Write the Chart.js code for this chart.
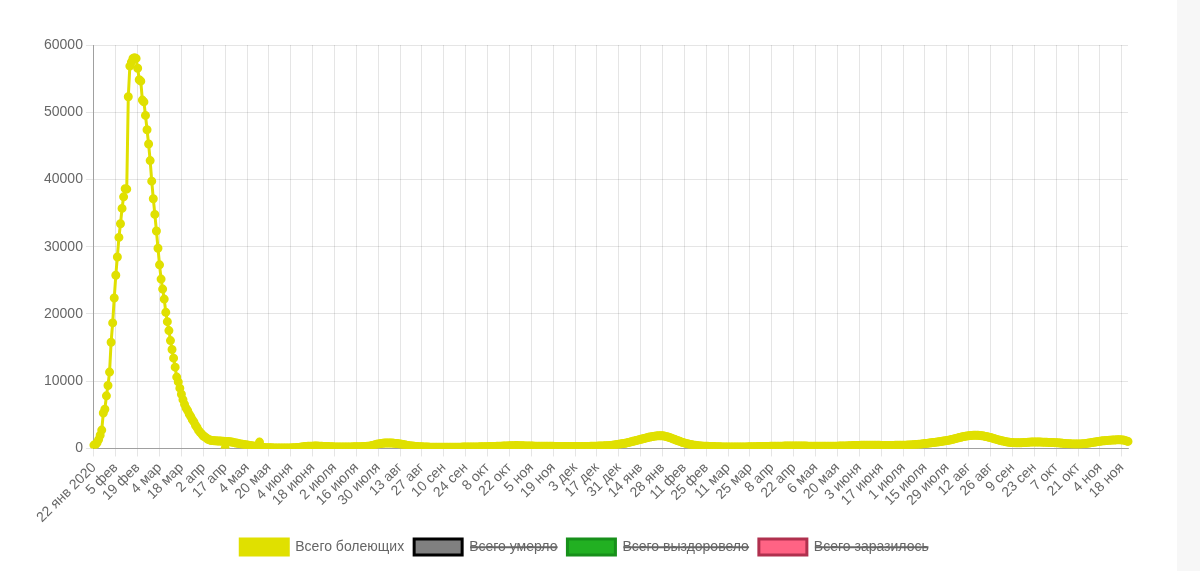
<!DOCTYPE html>
<html lang="ru">
<head>
<meta charset="utf-8">
<title>Всего болеющих</title>
<script src="https://cdn.jsdelivr.net/npm/chart.js@4/dist/chart.umd.min.js"></script>
<style>
  body { margin: 0; background: #f7f7f7; }
  #wrap { width: 1177px; height: 571px; background: #fff; position: relative; }
</style>
</head>
<body>
<div id="wrap"><canvas id="grafico"></canvas></div>
<script>
// подписи оси X (каждые 14 точек)
const tickLabels = [
  "22 янв 2020", "5 фев", "19 фев", "4 мар", "18 мар", "2 апр", "17 апр", "4 мая",
  "20 мая", "4 июня", "18 июня", "2 июля", "16 июля", "30 июля", "13 авг", "27 авг",
  "10 сен", "24 сен", "8 окт", "22 окт", "5 ноя", "19 ноя", "3 дек", "17 дек",
  "31 дек", "14 янв", "28 янв", "11 фев", "25 фев", "11 мар", "25 мар", "8 апр",
  "22 апр", "6 мая", "20 мая", "3 июня", "17 июня", "1 июля", "15 июля", "29 июля",
  "12 авг", "26 авг", "9 сен", "23 сен", "7 окт", "21 окт", "4 ноя", "18 ноя"
];
const tickStep = 14;

// всего болеющих, по дням (одна строка = 14 дней)
const activeCases = [
  503, 595, 858, 1325, 1970, 2737, 5277, 5834, 7835, 9375, 11357, 15806, 18677, 22373,
  25763, 28478, 31394, 33414, 35706, 37425, 38639, 38563, 52313, 56864, 57456, 57999, 58115, 58009,
  56551, 54837, 54619, 51806, 51535, 49530, 47400, 45280, 42810, 39750, 37140, 34810, 32350, 29780,
  27310, 25190, 23700, 22220, 20250, 18860, 17530, 16050, 14720, 13430, 12100, 10620, 9900, 8970,
  8060, 7260, 6570, 6010, 5640, 5120, 4740, 4290, 3950, 3460, 3130, 2690, 2400, 2160,
  1860, 1730, 1560, 1380, 1300, 1190, 1190, 1160, 1140, 1120, 1120, 1100, 1080, 1060,
  0, 1050, 1030, 1000, 960, 920, 870, 820, 770, 720, 680, 640, 600, 560,
  520, 480, 440, 400, 360, 320, 280, 240, 950, 200, 170, 150, 130, 120,
  110, 100, 95, 90, 85, 80, 80, 75, 75, 70, 70, 70, 75, 80,
  90, 100, 110, 120, 140, 160, 190, 220, 250, 280, 300, 320, 330, 340,
  350, 360, 360, 360, 350, 340, 330, 310, 300, 290, 280, 270, 260, 250,
  240, 240, 230, 230, 220, 220, 220, 220, 230, 230, 240, 240, 250, 250,
  260, 260, 270, 270, 280, 290, 300, 320, 350, 390, 440, 500, 560, 620,
  670, 710, 750, 780, 800, 810, 820, 820, 810, 800, 780, 760, 730, 700,
  660, 620, 580, 540, 500, 460, 420, 390, 360, 330, 310, 290, 270, 260,
  250, 240, 230, 220, 210, 200, 200, 190, 190, 180, 180, 180, 180, 180,
  180, 180, 180, 180, 180, 190, 190, 190, 200, 200, 200, 200, 210, 210,
  210, 220, 220, 220, 230, 230, 240, 240, 240, 250, 250, 260, 260, 270,
  270, 280, 280, 290, 300, 310, 320, 330, 340, 350, 360, 370, 380, 390,
  400, 410, 420, 420, 430, 430, 420, 420, 410, 400, 390, 380, 370, 360,
  360, 360, 350, 350, 340, 340, 330, 330, 330, 320, 320, 320, 320, 320,
  320, 310, 310, 310, 300, 300, 300, 300, 300, 300, 290, 290, 290, 290,
  290, 290, 290, 290, 290, 300, 300, 300, 310, 310, 320, 320, 330, 340,
  350, 360, 370, 380, 390, 400, 410, 420, 440, 460, 480, 510, 540, 580,
  620, 660, 700, 740, 780, 830, 880, 940, 1000, 1060, 1120, 1180, 1240, 1300,
  1360, 1420, 1480, 1540, 1600, 1660, 1710, 1760, 1800, 1840, 1870, 1890, 1900, 1900,
  1880, 1850, 1800, 1740, 1670, 1590, 1500, 1410, 1320, 1230, 1140, 1060, 980, 900,
  830, 760, 700, 640, 590, 540, 500, 470, 440, 410, 390, 370, 350, 340,
  330, 320, 310, 300, 290, 280, 270, 260, 250, 250, 240, 240, 230, 230,
  230, 220, 220, 220, 220, 220, 220, 230, 230, 230, 240, 240, 240, 250,
  250, 260, 260, 270, 270, 280, 280, 290, 290, 300, 300, 310, 310, 320,
  320, 330, 330, 340, 340, 350, 350, 350, 360, 360, 360, 370, 370, 370,
  370, 370, 370, 370, 370, 360, 360, 360, 360, 350, 350, 350, 350, 340,
  340, 340, 340, 340, 340, 340, 340, 340, 340, 340, 340, 350, 350, 350,
  350, 360, 360, 370, 370, 380, 390, 400, 410, 420, 430, 440, 450, 460,
  460, 470, 470, 480, 480, 480, 480, 480, 480, 480, 470, 470, 470, 470,
  460, 460, 460, 460, 460, 460, 460, 460, 460, 470, 470, 470, 480, 480,
  490, 490, 500, 510, 520, 530, 540, 560, 580, 600, 620, 640, 670, 700,
  730, 760, 790, 820, 850, 880, 910, 940, 970, 1000, 1030, 1060, 1100, 1140,
  1180, 1220, 1270, 1320, 1380, 1440, 1500, 1560, 1620, 1680, 1730, 1780, 1830, 1870,
  1900, 1930, 1950, 1960, 1970, 1970, 1960, 1940, 1910, 1880, 1840, 1790, 1740, 1680,
  1620, 1560, 1490, 1420, 1350, 1280, 1220, 1160, 1100, 1050, 1000, 960, 930, 900,
  880, 870, 860, 860, 860, 860, 870, 880, 890, 900, 920, 940, 950, 960,
  960, 960, 960, 950, 950, 940, 940, 930, 920, 910, 900, 890, 880, 870,
  860, 840, 820, 800, 780, 760, 740, 720, 700, 690, 680, 670, 660, 660,
  660, 670, 680, 700, 720, 740, 770, 800, 840, 880, 920, 960, 1000, 1040,
  1080, 1110, 1140, 1160, 1180, 1200, 1220, 1240, 1260, 1270, 1280, 1290, 1300, 1300,
  1280, 1250, 1200, 1130, 1050
];

// скрытые серии (в легенде зачёркнуты, на графике не видны)
const deathsValues = [];
const recoveredValues = [];
const confirmedValues = [];

const categories = activeCases.map((v, i) => i % tickStep === 0 ? tickLabels[i / tickStep] : "");

Chart.defaults.font.family = "'Liberation Sans', Arial, sans-serif";
Chart.defaults.font.size = 14;
Chart.defaults.color = "#666";

const ctx = document.getElementById("grafico").getContext("2d");
new Chart(ctx, {
  type: "line",
  data: {
    labels: categories,
    datasets: [
      {
        label: "Всего болеющих",
        data: activeCases,
        borderColor: "rgb(224, 224, 0)",
        backgroundColor: "rgb(224, 224, 0)",
        pointBackgroundColor: "rgb(224, 224, 0)",
        pointBorderColor: "rgb(224, 224, 0)",
        borderWidth: 3,
        pointRadius: 3.5,
        pointBorderWidth: 2,
        fill: false,
        tension: 0
      },
      {
        label: "Всего умерло",
        data: deathsValues,
        hidden: true,
        borderColor: "#000",
        backgroundColor: "#808080",
        borderWidth: 3
      },
      {
        label: "Всего выздоровело",
        data: recoveredValues,
        hidden: true,
        borderColor: "#17901a",
        backgroundColor: "#22b022",
        borderWidth: 3
      },
      {
        label: "Всего заразилось",
        data: confirmedValues,
        hidden: true,
        borderColor: "#b0304e",
        backgroundColor: "#ff6384",
        borderWidth: 3
      }
    ]
  },
  options: {
    responsive: true,
    maintainAspectRatio: false,
    animation: false,
    layout: { padding: { left: 41, right: 49, top: 45, bottom: 6 } },
    plugins: {
      legend: {
        position: "bottom",
        labels: { boxWidth: 48, boxHeight: 16, padding: 10 }
      },
      tooltip: { enabled: false }
    },
    scales: {
      x: {
        ticks: {
          autoSkip: false,
          minRotation: 45,
          maxRotation: 45,
          callback: function (val) {
            const lbl = this.getLabelForValue(val);
            return lbl === "" ? null : lbl;
          }
        },
        grid: { color: "rgba(0,0,0,0.1)" },
        border: { color: "rgba(0,0,0,0.3)" }
      },
      y: {
        min: 0,
        max: 60000,
        ticks: { stepSize: 10000, callback: v => String(v) },
        grid: { color: "rgba(0,0,0,0.1)" },
        border: { color: "rgba(0,0,0,0.3)" }
      }
    }
  }
});
</script>
</body>
</html>
